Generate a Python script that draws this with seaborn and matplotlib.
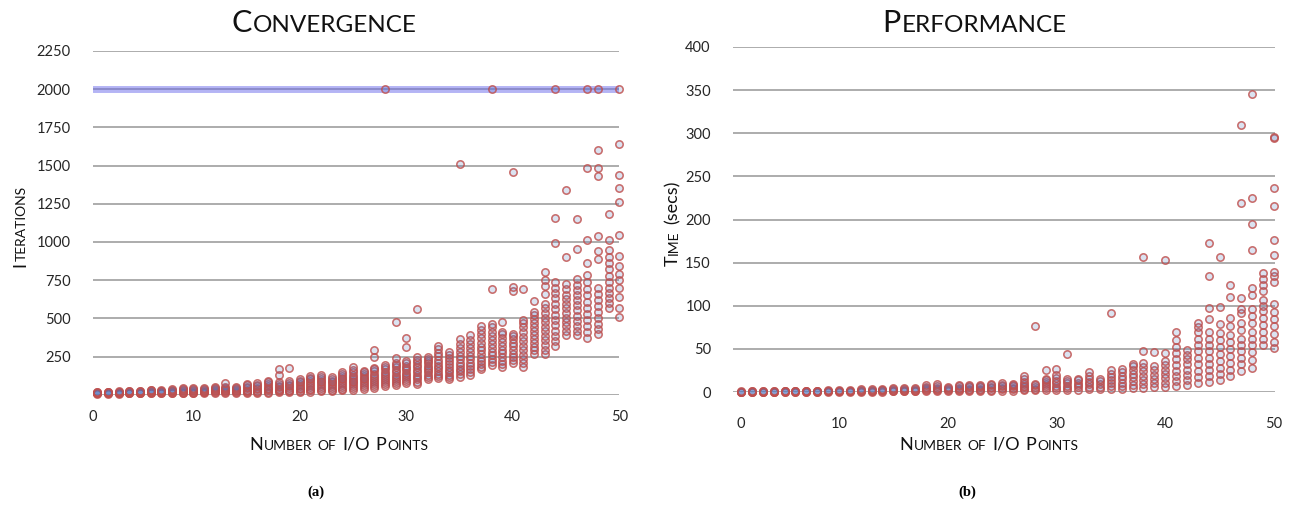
import matplotlib
matplotlib.use("Agg")
import matplotlib.pyplot as plt
import numpy as np
import pandas as pd
import seaborn as sns

sns.set_theme(style="white")
FONT = ["Lato", "DejaVu Sans"]
plt.rcParams["font.family"] = FONT

# ---------------- data ----------------
N_POINTS = list(range(1, 51))

ITERATIONS = [
    [6, 8, 10, 12, 14, 16, 18],
    [6, 9, 11, 13, 15, 17, 20],
    [7, 9, 12, 14, 16, 19, 21],
    [8, 10, 13, 16, 19, 22, 25],
    [8, 11, 14, 17, 20, 23, 26],
    [9, 12, 15, 19, 23, 28, 33],
    [9, 12, 15, 18, 22, 26, 29],
    [10, 13, 17, 21, 26, 31, 35],
    [10, 14, 18, 23, 29, 35, 42],
    [10, 14, 19, 24, 30, 36, 43],
    [11, 15, 20, 26, 32, 38, 44],
    [11, 16, 22, 28, 35, 42, 50],
    [12, 16, 22, 29, 36, 44, 50, 74],
    [12, 17, 23, 30, 37, 44, 50],
    [13, 18, 25, 33, 42, 52, 62, 72],
    [14, 20, 27, 35, 44, 54, 64, 74],
    [14, 20, 28, 37, 47, 58, 70, 82, 90],
    [15, 22, 30, 40, 50, 60, 70, 80, 126, 166],
    [16, 24, 33, 43, 54, 65, 76, 87, 172],
    [18, 27, 36, 46, 57, 68, 80, 92, 101],
    [20, 30, 40, 52, 64, 76, 88, 100, 112, 122],
    [22, 32, 44, 56, 68, 80, 92, 104, 118, 132],
    [24, 34, 45, 56, 68, 80, 92, 104, 114],
    [28, 38, 50, 62, 75, 88, 100, 112, 124, 136, 146],
    [33, 42, 55, 68, 80, 92, 104, 118, 132, 146, 160, 180],
    [40, 50, 62, 75, 88, 100, 112, 124, 136, 148, 158],
    [45, 58, 70, 84, 96, 110, 124, 138, 152, 165, 175, 245, 295],
    [55, 68, 80, 94, 108, 122, 136, 150, 165, 180, 192, 2000],
    [62, 76, 90, 104, 118, 132, 148, 164, 180, 195, 207, 240, 475],
    [75, 88, 102, 116, 130, 145, 160, 175, 190, 205, 218, 315, 372],
    [70, 85, 100, 116, 132, 148, 164, 180, 196, 212, 228, 244, 560],
    [105, 118, 132, 146, 160, 175, 190, 205, 220, 235, 250],
    [107, 122, 138, 155, 172, 190, 210, 230, 252, 275, 300, 320],
    [100, 115, 130, 147, 164, 182, 200, 220, 240, 260, 278],
    [118, 135, 152, 170, 190, 210, 232, 255, 280, 305, 335, 365, 1510],
    [130, 148, 168, 188, 210, 232, 256, 280, 305, 330, 360, 392],
    [165, 182, 200, 220, 242, 265, 290, 315, 340, 368, 398, 425, 452],
    [195, 215, 236, 258, 282, 306, 332, 358, 385, 412, 440, 466, 695, 2000],
    [180, 200, 222, 245, 270, 295, 320, 345, 370, 395, 412, 477],
    [205, 225, 246, 268, 292, 316, 340, 362, 382, 400, 680, 706, 1455],
    [180, 205, 232, 260, 290, 320, 350, 380, 410, 440, 468, 492, 695],
    [268, 290, 315, 340, 366, 392, 418, 444, 470, 495, 520, 540, 614],
    [265, 295, 325, 355, 385, 415, 445, 475, 505, 535, 565, 595, 658, 713, 751, 805],
    [316, 350, 385, 420, 455, 490, 525, 560, 595, 630, 665, 700, 735, 992, 1157, 2000],
    [393, 420, 448, 476, 505, 535, 565, 595, 625, 655, 690, 723, 899, 1337],
    [390, 420, 452, 485, 518, 552, 585, 618, 650, 685, 720, 755, 955, 1148],
    [370, 410, 450, 490, 530, 570, 610, 650, 695, 740, 782, 860, 1015, 1484, 2000],
    [400, 430, 460, 500, 540, 580, 620, 660, 700, 888, 943, 1041, 1432, 1484, 1603, 2000],
    [570, 600, 630, 665, 700, 740, 780, 820, 860, 900, 950, 1010, 1181],
    [510, 570, 642, 700, 750, 790, 845, 906, 1043, 1261, 1351, 1439, 1643, 2000],
]

TIME_SECS = [
    [0.1, 0.2, 0.3, 0.5, 0.7],
    [0.1, 0.2, 0.4, 0.6, 0.8],
    [0.1, 0.3, 0.5, 0.7, 0.9],
    [0.2, 0.3, 0.5, 0.8, 1.0],
    [0.2, 0.4, 0.6, 0.9, 1.1],
    [0.2, 0.4, 0.7, 1.0, 1.3],
    [0.2, 0.5, 0.8, 1.1, 1.4],
    [0.3, 0.5, 0.9, 1.2, 1.6],
    [0.3, 0.6, 1.0, 1.4, 1.8],
    [0.3, 0.7, 1.1, 1.5, 2.0],
    [0.4, 0.8, 1.2, 1.7, 2.2],
    [0.4, 0.9, 1.5, 2.2, 3.0],
    [0.5, 1.0, 1.7, 2.5, 3.4],
    [0.5, 1.1, 1.9, 2.8, 3.8],
    [0.6, 1.2, 2.0, 3.0, 4.2],
    [0.6, 1.3, 2.2, 3.3, 4.5],
    [0.7, 1.5, 2.5, 3.6, 5.0],
    [0.8, 1.8, 3.0, 4.5, 6.2, 8.0],
    [0.9, 2.0, 3.3, 5.0, 7.0, 9.0],
    [1.0, 2.0, 3.2, 4.5, 5.5],
    [1.0, 2.2, 3.6, 5.2, 7.0, 8.0],
    [1.1, 2.4, 3.8, 5.4, 7.0, 8.0],
    [1.2, 2.5, 4.0, 5.8, 7.5, 8.5],
    [1.3, 2.8, 4.5, 6.2, 8.0, 9.5],
    [1.4, 3.0, 4.8, 6.6, 8.5, 10.0],
    [1.5, 3.0, 4.8, 6.5, 8.2, 9.5],
    [1.8, 3.6, 5.5, 7.5, 9.5, 12.0, 14.5, 18.0],
    [2.0, 3.8, 5.8, 7.8, 9.8, 76.0],
    [2.2, 4.2, 6.5, 9.0, 11.5, 13.5, 15.5, 25.5],
    [2.5, 4.8, 7.2, 10.0, 13.0, 16.5, 20.0, 27.0],
    [2.6, 5.0, 7.5, 10.0, 12.5, 14.5, 43.5],
    [2.8, 5.5, 8.2, 11.0, 13.5, 15.0],
    [3.0, 6.0, 9.0, 12.0, 15.5, 19.0, 23.5],
    [3.2, 6.2, 9.2, 12.5, 15.5],
    [3.5, 6.8, 10.0, 13.5, 17.0, 21.0, 26.0, 91.5],
    [4.0, 7.5, 11.0, 15.0, 19.0, 23.0, 27.0],
    [4.5, 8.5, 12.5, 17.0, 21.0, 25.0, 30.0, 33.0],
    [5.0, 9.5, 14.0, 19.0, 24.0, 29.0, 34.0, 47.5, 157.0],
    [5.5, 10.0, 15.0, 20.0, 25.0, 30.0, 46.0],
    [6.0, 11.0, 16.0, 21.0, 26.0, 31.0, 36.0, 45.5, 152.5],
    [7.0, 12.5, 18.5, 24.5, 31.0, 38.0, 45.0, 52.0, 60.0, 70.0],
    [8.0, 14.0, 20.0, 26.0, 32.0, 38.0, 43.0, 48.5],
    [10.0, 17.0, 24.0, 32.0, 40.0, 47.0, 55.0, 62.0, 70.0, 75.0, 80.0],
    [12.0, 19.0, 26.0, 33.0, 40.0, 47.0, 54.0, 62.0, 69.5, 85.0, 97.0, 134.0, 173.0],
    [14.0, 21.0, 28.0, 36.0, 44.0, 52.0, 60.0, 68.0, 79.0, 99.0, 157.0],
    [18.0, 26.0, 34.0, 42.0, 50.0, 58.0, 66.0, 76.0, 86.0, 110.0, 123.5],
    [24.0, 33.0, 40.0, 47.0, 55.0, 62.0, 72.0, 80.0, 92.0, 96.0, 108.5, 219.0, 310.0],
    [28.0, 37.0, 46.0, 55.0, 62.0, 69.0, 80.0, 88.0, 96.0, 112.0, 121.0, 165.0, 195.0, 224.7, 346.0],
    [55.0, 62.0, 70.0, 78.0, 86.0, 94.0, 100.0, 107.0, 117.0, 124.0, 131.0, 138.0],
    [51.0, 58.0, 67.0, 77.0, 85.0, 93.0, 101.5, 128.0, 134.0, 139.0, 159.0, 176.0, 216.0, 237.0, 295.0, 296.0],
]

ITER_CAP = 2000
ITER_TICKS = [0, 250, 500, 750, 1000, 1250, 1500, 1750, 2000, 2250]
TIME_TICKS = [0, 50, 100, 150, 200, 250, 300, 350, 400]
X_TICK_LABELS = ["0", "10", "20", "30", "40", "50"]

TITLE_A = [("C", 22), ("ONVERGENCE", 17.5)]
TITLE_B = [("P", 22), ("ERFORMANCE", 17.5)]
XLABEL = [("N", 13), ("UMBER", 10), (" ", 10), ("OF", 10), (" ", 10),
          ("I/O", 13), (" ", 10), ("P", 13), ("OINTS", 10)]
YLABEL_A = [("I", 13), ("TERATIONS", 10)]
YLABEL_B = [("T", 13), ("IME", 10), (" ", 12), ("(secs)", 13)]

# ---------------- figure ----------------
W, H = 1289, 508
fig = plt.figure(figsize=(W / 100, H / 100), dpi=100)
fig.patch.set_facecolor("white")

axA = fig.add_axes([92.7 / W, 1 - 394.7 / H, (619.3 - 92.7) / W, (394.7 - 51) / H])
axB = fig.add_axes([733 / W, 1 - 392 / H, (1275.3 - 733) / W, (392 - 47) / H])

RED = (0.75, 0.31, 0.30)
BLUE = (0.31, 0.45, 0.74)
GRID = "#A6A6A6"
TXT = "#262626"


def long_df(values):
    rows = [(n, v) for n, vals in zip(N_POINTS, values) for v in vals]
    return pd.DataFrame(rows, columns=["n", "v"])


def draw_scatter(ax, values):
    df = long_df(values)
    sns.scatterplot(data=df, x="n", y="v", ax=ax, s=28, linewidth=1.15,
                    legend=False, zorder=4, clip_on=False)
    pts = ax.collections[-1]
    pts.set_facecolor((*BLUE, 0.2))
    pts.set_edgecolor((*RED, 0.82))


# left: convergence
axA.axhline(ITER_CAP, color=(0.42, 0.42, 0.92), alpha=0.5, lw=5, zorder=3)
draw_scatter(axA, ITERATIONS)
axA.set_xlim(0.55, 50)
axA.set_ylim(0, 2250)
axA.set_yticks(ITER_TICKS)
axA.set_yticklabels([""] + [str(t) for t in ITER_TICKS[1:]])
axA.set_xticks([0.55, 10, 20, 30, 40, 50])
axA.set_xticklabels(X_TICK_LABELS)
axA.tick_params(axis="y", length=0, pad=16, labelsize=10.5, labelcolor=TXT)
axA.tick_params(axis="x", length=0, pad=11, labelsize=10.5, labelcolor=TXT)

# right: performance
draw_scatter(axB, TIME_SECS)
axB.set_xlim(0.265, 50.12)
axB.set_ylim(0, 400)
axB.set_yticks(TIME_TICKS)
axB.set_yticklabels([str(t) for t in TIME_TICKS])
axB.set_xticks([1, 10, 20, 30, 40, 50])
axB.set_xticklabels(X_TICK_LABELS)
axB.tick_params(axis="y", length=0, pad=16, labelsize=10.5, labelcolor=TXT)
axB.tick_params(axis="x", length=0, pad=18, labelsize=10.5, labelcolor=TXT)

for ax in (axA, axB):
    ax.set_xlabel("")
    ax.set_ylabel("")
    for sp in ax.spines.values():
        sp.set_visible(False)
    ax.grid(axis="y", color=GRID, lw=1.3, zorder=0)
    ax.grid(axis="x", visible=False)
    ax.set_axisbelow(True)

# ---------------- small-caps text helpers ----------------
renderer = fig.canvas.get_renderer()


def piece_width(s, size):
    if s.strip() == "":
        a = fig.text(0, 0, "II", fontsize=size)
        b = fig.text(0, 0, "I I", fontsize=size)
        w = b.get_window_extent(renderer).width - a.get_window_extent(renderer).width
        a.remove(); b.remove()
        return w
    t = fig.text(0, 0, s, fontsize=size)
    w = t.get_window_extent(renderer).width
    t.remove()
    return w


def hcaps(pieces, xc, base_y):
    widths = [piece_width(s, z) + 1.0 for s, z in pieces]
    x = xc - sum(widths) / 2
    for (s, z), w in zip(pieces, widths):
        if s.strip():
            fig.text(x / W, 1 - base_y / H, s, fontsize=z, ha="left",
                     va="baseline", color="#111111")
        x += w


def vcaps(pieces, base_x, yc):
    widths = [piece_width(s, z) + 1.0 for s, z in pieces]
    y = yc + sum(widths) / 2  # start at bottom (pixel from top)
    for (s, z), w in zip(pieces, widths):
        if s.strip():
            fig.text(base_x / W, 1 - y / H, s, fontsize=z, rotation=90,
                     rotation_mode="anchor", ha="left", va="baseline",
                     color="#111111")
        y -= w


hcaps(TITLE_A, 325, 31.7)
hcaps(TITLE_B, 975, 31.7)
hcaps(XLABEL, 339, 449.5)
hcaps(XLABEL, 989, 449.5)
vcaps(YLABEL_A, 25.5, 226)
vcaps(YLABEL_B, 678, 223)

fig.text(316 / W, 1 - 492 / H, "(a)", fontfamily="Liberation Serif",
         fontweight="bold", fontsize=10.5, ha="center", va="center", color="black")
fig.text(967 / W, 1 - 492 / H, "(b)", fontfamily="Liberation Serif",
         fontweight="bold", fontsize=10.5, ha="center", va="center", color="black")

fig.savefig("out.png", dpi=100, facecolor="white")
